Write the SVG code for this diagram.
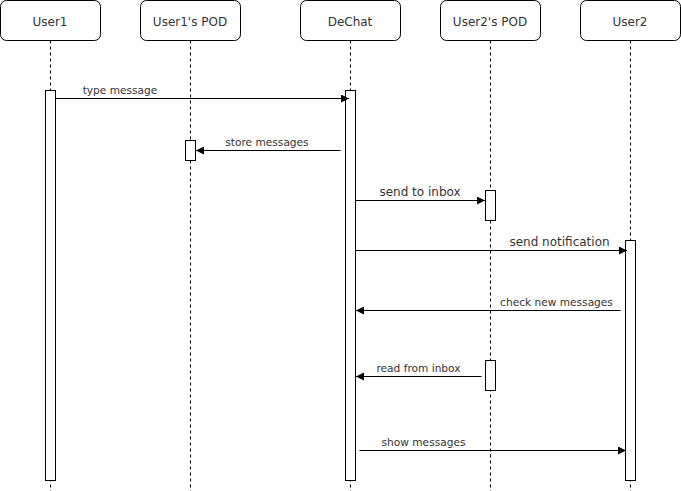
<svg xmlns="http://www.w3.org/2000/svg" width="681" height="491" viewBox="0 0 681 491">
<style>
.hdr{fill:#fff;stroke:#000;stroke-width:1}
.ll{stroke:#000;stroke-width:1;stroke-dasharray:3,3;fill:none}
.act{fill:#fff;stroke:#000;stroke-width:1}
.msg{stroke:#000;stroke-width:1;fill:none;marker-end:url(#arr)}
.ht{font-family:"DejaVu Sans",Verdana,sans-serif;font-size:12px;fill:#333;text-anchor:middle}
.lt{font-family:"DejaVu Sans",Verdana,sans-serif;font-size:10.6px;fill:#333;text-anchor:middle}
.lt2{font-family:"DejaVu Sans",Verdana,sans-serif;font-size:12px;fill:#333;text-anchor:middle}
</style>
<defs>
<marker id="arr" markerUnits="userSpaceOnUse" markerWidth="10" markerHeight="10" refX="8" refY="4" orient="auto">
<path d="M0,0 L8,4 L0,8 Z" fill="#000"/>
</marker>
</defs>
<rect width="681" height="491" fill="#fff"/>
<g id="User1">
<rect class="hdr" x="0.5" y="0.5" width="100" height="40" rx="6"/>
<text class="ht" x="50" y="26">User1</text>
<line class="ll" x1="50.5" y1="40.5" x2="50.5" y2="491"/>
<rect class="act" x="45.5" y="90.5" width="10" height="390"/>
</g>
<g id="User1POD">
<rect class="hdr" x="140.5" y="0.5" width="100" height="40" rx="6"/>
<text class="ht" x="190" y="26">User1's POD</text>
<line class="ll" x1="190.5" y1="40.5" x2="190.5" y2="491"/>
<rect class="act" x="185.5" y="140.5" width="10" height="20"/>
</g>
<g id="DeChat">
<rect class="hdr" x="300.5" y="0.5" width="100" height="40" rx="6"/>
<text class="ht" x="350" y="26">DeChat</text>
<line class="ll" x1="350.5" y1="40.5" x2="350.5" y2="491"/>
<rect class="act" x="345.5" y="90.5" width="10" height="390"/>
</g>
<g id="User2POD">
<rect class="hdr" x="440.5" y="0.5" width="100" height="40" rx="6"/>
<text class="ht" x="490" y="26">User2's POD</text>
<line class="ll" x1="490.5" y1="40.5" x2="490.5" y2="491"/>
<rect class="act" x="485.5" y="190.5" width="10" height="30"/>
<rect class="act" x="485.5" y="360.5" width="10" height="30"/>
</g>
<g id="User2">
<rect class="hdr" x="580.5" y="0.5" width="100" height="40" rx="6"/>
<text class="ht" x="630" y="26">User2</text>
<line class="ll" x1="630.5" y1="40.5" x2="630.5" y2="491"/>
<rect class="act" x="625.5" y="240.5" width="10" height="240"/>
</g>
<g id="connectors">
<line class="msg" x1="55.5" y1="98.5" x2="349" y2="98.5"/>
<text class="lt" x="120" y="94">type message</text>
<line class="msg" x1="340.5" y1="150.5" x2="196" y2="150.5"/>
<text class="lt" x="267" y="146">store messages</text>
<line class="msg" x1="355.5" y1="200.5" x2="485" y2="200.5"/>
<text class="lt2" x="420" y="196">send to inbox</text>
<line class="msg" x1="355.5" y1="250.5" x2="627" y2="250.5"/>
<text class="lt2" x="559.5" y="246">send notification</text>
<line class="msg" x1="620.5" y1="310.5" x2="356" y2="310.5"/>
<text class="lt" x="556.5" y="306">check new messages</text>
<line class="msg" x1="481.5" y1="376.5" x2="356" y2="376.5"/>
<text class="lt" x="418.5" y="372">read from inbox</text>
<line class="msg" x1="359.5" y1="450.5" x2="626" y2="450.5"/>
<text class="lt" x="423.5" y="446">show messages</text>
</g>
</svg>
